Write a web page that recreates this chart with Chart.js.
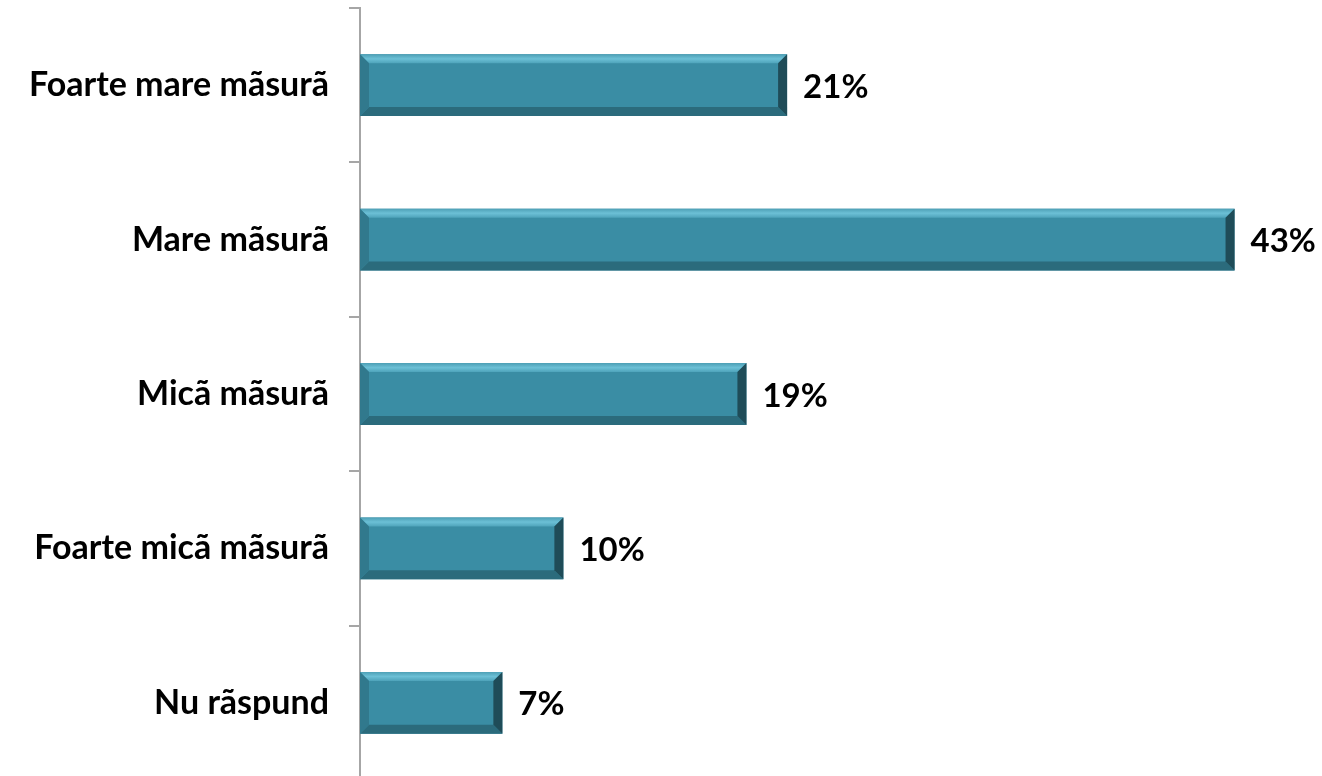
<!DOCTYPE html>
<html>
<head>
<meta charset="utf-8">
<script src="https://cdn.jsdelivr.net/npm/chart.js@4/dist/chart.umd.min.js"></script>
<style>
  html, body { margin: 0; padding: 0; background: #fff; overflow: hidden; }
  #wrap { width: 1322px; height: 780px; }
</style>
</head>
<body>
<div id="wrap"><canvas id="bars"></canvas></div>
<script>
// categories and values (percent)
var categories = ['Foarte mare mãsurã', 'Mare mãsurã', 'Micã mãsurã', 'Foarte micã mãsurã', 'Nu rãspund'];
var values = [21, 43, 19, 10, 7];
var valueLabels = ['21%', '43%', '19%', '10%', '7%'];

// bevel effect on each bar, drawn over the flat fill
var bevelPlugin = {
    id: 'bevel',
    afterDatasetsDraw: function(chart) {
        var ctx = chart.ctx;
        var meta = chart.getDatasetMeta(0);
        meta.data.forEach(function(bar) {
            var l = bar.base, r = bar.x;
            var t = bar.y - bar.height / 2, b = bar.y + bar.height / 2;
            var d = 9;
            ctx.save();
            // top face
            var g = ctx.createLinearGradient(0, t, 0, t + d);
            g.addColorStop(0, '#4d9fb5');
            g.addColorStop(0.5, '#6cc0d6');
            g.addColorStop(1, '#4ea3ba');
            ctx.fillStyle = g;
            ctx.beginPath();
            ctx.moveTo(l, t); ctx.lineTo(r, t); ctx.lineTo(r - d, t + d); ctx.lineTo(l + d, t + d);
            ctx.closePath(); ctx.fill();
            // bottom face
            ctx.fillStyle = '#2b6b7c';
            ctx.beginPath();
            ctx.moveTo(l, b); ctx.lineTo(r, b); ctx.lineTo(r - d, b - d); ctx.lineTo(l + d, b - d);
            ctx.closePath(); ctx.fill();
            // left face
            ctx.fillStyle = '#31798d';
            ctx.beginPath();
            ctx.moveTo(l, t); ctx.lineTo(l + d, t + d); ctx.lineTo(l + d, b - d); ctx.lineTo(l, b);
            ctx.closePath(); ctx.fill();
            // right face
            ctx.fillStyle = '#1f4c58';
            ctx.beginPath();
            ctx.moveTo(r, t); ctx.lineTo(r - d, t + d); ctx.lineTo(r - d, b - d); ctx.lineTo(r, b);
            ctx.closePath(); ctx.fill();
            ctx.restore();
        });
    }
};

// value labels to the right of the bars
var valueLabelPlugin = {
    id: 'valueLabels',
    afterDatasetsDraw: function(chart) {
        var ctx = chart.ctx;
        var meta = chart.getDatasetMeta(0);
        ctx.save();
        ctx.font = 'bold 33px Lato, "Open Sans", sans-serif';
        ctx.fillStyle = '#000';
        ctx.textAlign = 'left';
        ctx.textBaseline = 'middle';
        meta.data.forEach(function(bar, i) {
            ctx.fillText(valueLabels[i], bar.x + 16, bar.y + 2);
        });
        ctx.restore();
    }
};

var ctx = document.getElementById('bars').getContext('2d');
var barChart = new Chart(ctx, {
    type: 'bar',
    data: {
        labels: categories,
        datasets: [{
            data: values,
            backgroundColor: '#3a8da4',
            borderWidth: 0,
            categoryPercentage: 1,
            barPercentage: 0.4
        }]
    },
    options: {
        indexAxis: 'y',
        responsive: true,
        maintainAspectRatio: false,
        animation: false,
        layout: { padding: { top: 8, right: 0, bottom: 0, left: 0 } },
        plugins: {
            legend: { display: false },
            tooltip: { enabled: false }
        },
        scales: {
            x: {
                display: false,
                min: 0,
                max: 47.3
            },
            y: {
                afterFit: function(scale) {
                    scale.width = 360;
                    scale.paddingTop = 0;
                    scale.paddingBottom = 0;
                },
                grid: {
                    display: true,
                    drawOnChartArea: false,
                    drawTicks: true,
                    tickLength: 11,
                    color: '#a6a6a6',
                    lineWidth: 2,
                    offset: true
                },
                border: { display: true, color: '#a6a6a6', width: 2 },
                ticks: {
                    color: '#000',
                    padding: 20,
                    font: { family: 'Lato, "Open Sans", sans-serif', weight: 'bold', size: 34 }
                }
            }
        }
    },
    plugins: [bevelPlugin, valueLabelPlugin]
});
</script>
</body>
</html>
